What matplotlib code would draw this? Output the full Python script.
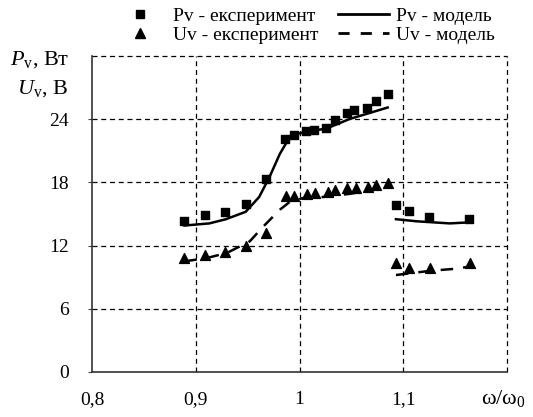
import matplotlib
matplotlib.use("Agg")
import matplotlib.pyplot as plt
from matplotlib.lines import Line2D

plt.rcParams['font.family'] = ['Liberation Serif', 'DejaVu Serif']
plt.rcParams['mathtext.fontset'] = 'custom'
plt.rcParams['mathtext.rm'] = 'Liberation Serif'
plt.rcParams['mathtext.it'] = 'Liberation Serif:italic'

# Pv experiment (squares)
pv_exp_x = [0.889, 0.909, 0.928, 0.948, 0.968, 0.986, 0.995, 1.006, 1.014, 1.026,
            1.034, 1.046, 1.053, 1.065, 1.074, 1.085,
            1.093, 1.106, 1.125, 1.163]
pv_exp_y = [14.3, 14.9, 15.2, 15.9, 18.3, 22.1, 22.5, 22.9, 23.0, 23.2,
            23.9, 24.6, 24.9, 25.1, 25.7, 26.4,
            15.8, 15.3, 14.7, 14.5]

# Uv experiment (triangles)
uv_exp_x = [0.889, 0.909, 0.928, 0.948, 0.968, 0.987, 0.995, 1.007, 1.015, 1.027,
            1.034, 1.046, 1.054, 1.066, 1.074, 1.085,
            1.093, 1.106, 1.126, 1.164]
uv_exp_y = [10.8, 11.1, 11.4, 12.0, 13.2, 16.7, 16.7, 16.9, 17.0, 17.1,
            17.25, 17.5, 17.5, 17.6, 17.7, 17.9,
            10.3, 9.9, 9.9, 10.3]

# Pv model (solid), two branches
pv_mod1_x = [0.889, 0.913, 0.929, 0.948, 0.961, 0.971, 0.981, 0.987, 0.994, 1.006, 1.026, 1.048, 1.085]
pv_mod1_y = [13.9, 14.1, 14.5, 15.2, 16.6, 18.5, 20.7, 21.7, 22.5, 22.8, 23.1, 24.0, 25.1]
pv_mod2_x = [1.093, 1.113, 1.145, 1.164]
pv_mod2_y = [14.5, 14.3, 14.1, 14.2]

# Uv model (dashed), two branches
uv_mod1_x = [0.889, 0.91, 0.93, 0.952, 0.965, 0.981, 0.990, 1.003, 1.022, 1.048, 1.085]
uv_mod1_y = [10.5, 10.8, 11.3, 12.4, 13.8, 15.4, 16.1, 16.5, 16.6, 16.9, 17.5]
uv_mod2_x = [1.093, 1.126, 1.151, 1.164]
uv_mod2_y = [9.2, 9.6, 9.8, 10.0]

x_ticks = [0.8, 0.9, 1.0, 1.1]
x_labels = ["0,8", "0,9", "1", "1,1"]
y_ticks = [0, 6, 12, 18, 24]

fig = plt.figure(figsize=(5.33, 4.17), dpi=100)
ax = fig.add_axes([0.173, 0.108, 0.778, 0.758])

ax.plot(pv_mod1_x, pv_mod1_y, color="black", lw=1.8)
ax.plot(pv_mod2_x, pv_mod2_y, color="black", lw=1.8)
ax.plot(uv_mod1_x, uv_mod1_y, color="black", lw=1.8, dashes=(5, 4))
ax.plot(uv_mod2_x, uv_mod2_y, color="black", lw=1.8, dashes=(5, 4))
ax.scatter(pv_exp_x, pv_exp_y, marker="s", s=38, color="black", zorder=3)
ax.scatter(uv_exp_x, uv_exp_y, marker="^", s=50, color="black", zorder=3)

ax.set_xlim(0.8, 1.2)
ax.set_ylim(0, 30)
ax.set_xticks(x_ticks)
ax.set_xticklabels(x_labels, fontsize=14)
ax.set_yticks(y_ticks)
ax.set_yticklabels([str(v) for v in y_ticks], fontsize=14)
ax.tick_params(length=3, width=0.8, color="#444444", pad=14)
ax.tick_params(axis="x", length=0, pad=14)

for x in [0.9, 1.0, 1.1, 1.2]:
    ax.axvline(x, color="black", lw=0.9, ls=(0, (4, 3)), clip_on=False, zorder=1)
for y in [6, 12, 18, 24, 30]:
    ax.axhline(y, color="black", lw=0.9, ls=(0, (4, 3)), clip_on=False, zorder=1)

ax.spines['top'].set_visible(False)
ax.spines['right'].set_visible(False)
ax.spines['left'].set_color("#333333")
ax.spines['bottom'].set_color("#333333")
ax.spines['left'].set_linewidth(1.2)
ax.spines['bottom'].set_linewidth(1.2)

fig.text(0.018, 0.845, r"$\mathit{P}_{\mathrm{v}}$, Вт", fontsize=16)
fig.text(0.032, 0.775, r"$\mathit{U}_{\mathrm{v}}$, В", fontsize=16)
fig.text(0.903, 0.03, r"ω/ω$_0$", fontsize=16)

handles = [
    Line2D([], [], marker="s", color="black", ls="none", markersize=6),
    Line2D([], [], marker="^", color="black", ls="none", markersize=7),
    Line2D([], [], color="black", lw=2),
    Line2D([], [], color="black", lw=2, dashes=(4, 4)),
]
labels = ["Pv - експеримент", "Uv - експеримент", "Pv - модель", "Uv - модель"]
fig.legend(handles, labels, ncol=2, loc="upper left", bbox_to_anchor=(0.19, 1.015),
           frameon=False, fontsize=14, handlelength=2.6, handletextpad=0.4,
           columnspacing=1.0, labelspacing=0.05, borderpad=0.2)

fig.savefig("out.png", dpi=100)
